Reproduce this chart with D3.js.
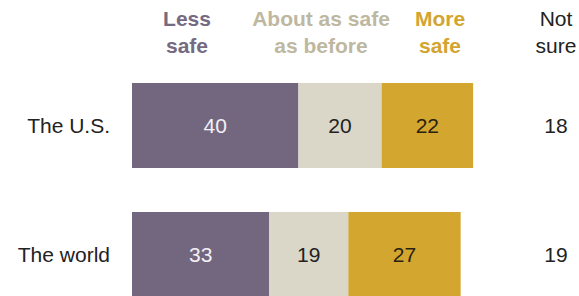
<!DOCTYPE html>
<html>
<head>
<meta charset="utf-8">
<script src="https://cdn.jsdelivr.net/npm/d3@7"></script>
<style>
  body { margin: 0; background: #fff; }
  svg text { font-family: "Liberation Sans", Arial, sans-serif; }
</style>
</head>
<body>
<svg></svg>
<script>
// lignes du graphique
const rows = ["The U.S.", "The world"];
// categories empilees
const categories = ["Less safe", "About as safe as before", "More safe"];
const lessSafe = [40, 33];
const aboutSame = [20, 19];
const moreSafe = [22, 27];
const notSure = [18, 19];
// entetes sur deux lignes
const headerLines = [["Less", "safe"], ["About as safe", "as before"], ["More", "safe"]];
const notSureLines = ["Not", "sure"];

const colors = ["#736780", "#dad7c8", "#d3a62f"];
const headerColors = ["#756a82", "#bdb89f", "#d3a530"];
const valueColors = ["#f2f0f4", "#222", "#2a2210"];

var svgWidth = 579, svgHeight = 296;
var svg = d3.select("svg")
    .attr("width", svgWidth)
    .attr("height", svgHeight);

// echelles
var x = d3.scaleLinear()
    .domain([0, 100])
    .range([132, 548]);

var y = d3.scaleBand()
    .domain(rows)
    .range([83, 83 + 129 * 2 - 44])
    .paddingInner(44 / 129)
    .paddingOuter(0);

// construit les segments empiles
var series = [lessSafe, aboutSame, moreSafe];
var data = [];
rows.forEach(function(r, i) {
    var start = 0;
    series.forEach(function(s, k) {
        data.push({ row: r, cat: k, x0: start, x1: start + s[i], value: s[i] });
        start += s[i];
    });
});

svg.selectAll("rect.seg")
    .data(data)
    .enter().append("rect")
    .attr("class", "seg")
    .attr("x", function(d) { return x(d.x0); })
    .attr("width", function(d) { return x(d.x1) - x(d.x0); })
    .attr("y", function(d) { return y(d.row); })
    .attr("height", y.bandwidth())
    .attr("fill", function(d) { return colors[d.cat]; });

svg.selectAll("text.val")
    .data(data)
    .enter().append("text")
    .attr("class", "val")
    .attr("x", function(d) { return (x(d.x0) + x(d.x1)) / 2; })
    .attr("y", function(d) { return y(d.row) + y.bandwidth() / 2; })
    .attr("dy", "0.36em")
    .attr("text-anchor", "middle")
    .attr("font-size", 21)
    .attr("fill", function(d) { return valueColors[d.cat]; })
    .text(function(d) { return d.value; });

// etiquettes des lignes
svg.selectAll("text.row")
    .data(rows)
    .enter().append("text")
    .attr("class", "row")
    .attr("x", 110)
    .attr("y", function(d) { return y(d) + y.bandwidth() / 2; })
    .attr("dy", "0.36em")
    .attr("text-anchor", "end")
    .attr("font-size", 21)
    .attr("fill", "#222")
    .text(function(d) { return d; });

// colonne "Not sure"
var nsX = 556;
svg.selectAll("text.ns")
    .data(notSure)
    .enter().append("text")
    .attr("class", "ns")
    .attr("x", nsX)
    .attr("y", function(d, i) { return y(rows[i]) + y.bandwidth() / 2; })
    .attr("dy", "0.36em")
    .attr("text-anchor", "middle")
    .attr("font-size", 21)
    .attr("fill", "#222")
    .text(function(d) { return d; });

// entetes
var headerX = [187, 321, 440];
headerLines.forEach(function(lines, k) {
    var t = svg.append("text")
        .attr("x", headerX[k])
        .attr("text-anchor", "middle")
        .attr("font-size", 21)
        .attr("font-weight", "bold")
        .attr("fill", headerColors[k]);
    lines.forEach(function(l, j) {
        t.append("tspan")
            .attr("x", headerX[k])
            .attr("y", 26 + j * 27)
            .text(l);
    });
});

var ns = svg.append("text")
    .attr("x", nsX)
    .attr("text-anchor", "middle")
    .attr("font-size", 21)
    .attr("fill", "#222");
notSureLines.forEach(function(l, j) {
    ns.append("tspan")
        .attr("x", nsX)
        .attr("y", 26 + j * 27)
        .text(l);
});
</script>
</body>
</html>
